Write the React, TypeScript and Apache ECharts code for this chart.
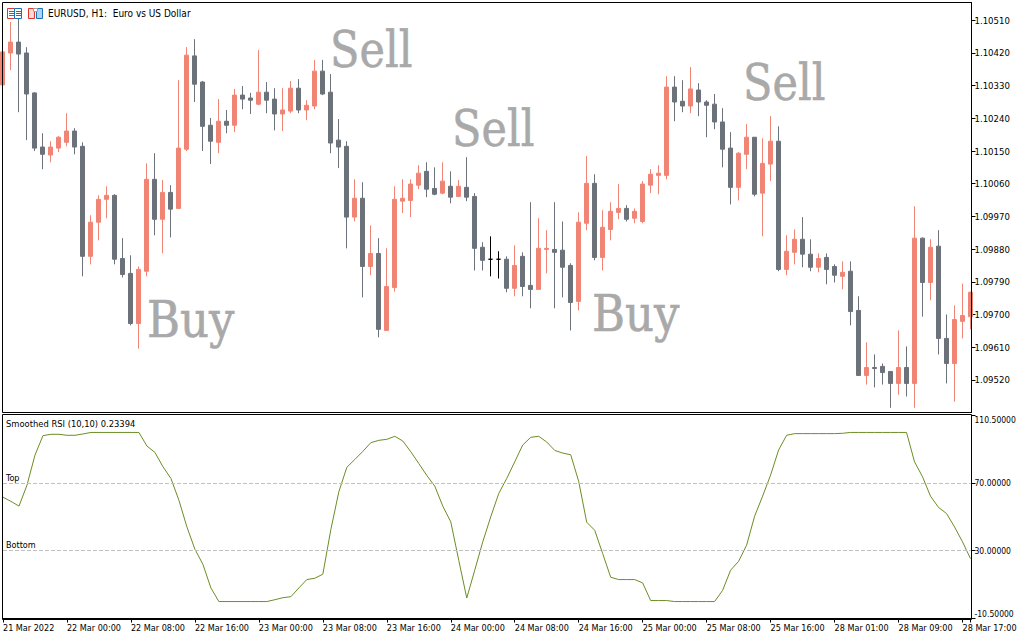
import React, { useEffect, useRef } from "react";
import * as echarts from "echarts";

const tickLabels = ["21 Mar 2022","22 Mar 00:00","22 Mar 08:00","22 Mar 16:00","23 Mar 00:00","23 Mar 08:00","23 Mar 16:00","24 Mar 00:00","24 Mar 08:00","24 Mar 16:00","25 Mar 00:00","25 Mar 08:00","25 Mar 16:00","28 Mar 01:00","28 Mar 09:00","28 Mar 17:00"];
const priceTicks = [1.0952,1.0961,1.097,1.0979,1.0988,1.0997,1.1006,1.1015,1.1024,1.1033,1.1042,1.1051];
const rsiTicks = [-10.5,30,70,110.5];
const levels = [{ name: "Top", value: 70 }, { name: "Bottom", value: 30 }];

const opens = [110332,110420,110450,110420,110310,110161,110139,110158,110174,110205,110163,109860,109954,110017,110028,109854,109813,109675,109819,110072,109962,110036,109992,110155,110412,110340,110221,110174,110232,110221,110304,110296,110279,110312,110293,110252,110260,110323,110263,110274,110370,110312,110180,110163,109968,110020,109832,109868,109656,109774,110012,110014,110056,110094,110047,110034,110053,110025,110050,110025,109885,109852,109852,109852,109772,109860,109780,109769,109879,109879,109877,109835,109736,109951,110061,109857,109934,109981,109992,109965,109956,110056,110083,110083,110326,110287,110274,110318,110285,110279,110230,110158,110050,110141,110188,110034,110114,110177,109824,109871,109907,109866,109830,109857,109832,109805,109819,109711,109532,109554,109557,109543,109510,109554,109510,109910,109788,109888,109634,109565,109681,109694];
const closes = [110423,110450,110417,110307,110158,110141,110161,110188,110205,110161,109860,109954,110017,110028,109852,109810,109675,109824,110072,109962,110036,109990,110158,110414,110334,110218,110177,110232,110221,110304,110293,110290,110312,110290,110252,110263,110323,110263,110276,110370,110307,110172,110161,109968,110020,109832,109868,109659,109777,110017,110020,110059,110089,110045,110031,110067,110023,110053,110023,109882,109849,109852,109852,109772,109835,109777,109769,109882,109882,109871,109830,109733,109954,110061,109857,109940,109984,109992,109962,109984,110059,110086,110089,110326,110285,110274,110321,110285,110276,110230,110155,110050,110144,110188,110031,110116,110177,109824,109874,109907,109866,109830,109854,109824,109808,109816,109708,109532,109554,109551,109540,109510,109554,109510,109910,109788,109885,109634,109565,109686,109697,109761];
const lows = [110332,110373,110257,110180,110150,110100,110119,110147,110163,110141,109805,109838,109904,109965,109838,109802,109670,109606,109805,109918,109868,109912,109990,110150,110285,110150,110114,110144,110199,110202,110265,110252,110276,110254,110207,110205,110254,110254,110235,110265,110304,110144,110103,109882,109956,109747,109808,109637,109656,109763,109979,109968,110045,110023,110028,110031,110006,110023,110012,109821,109821,109805,109799,109761,109750,109750,109717,109769,109813,109717,109747,109656,109711,109932,109849,109821,109904,109962,109956,109951,109951,110034,110031,110072,110232,110257,110254,110246,110188,110210,110105,110003,110014,110100,110025,109915,110067,109819,109808,109838,109830,109819,109816,109783,109788,109769,109670,109532,109507,109499,109507,109443,109479,109474,109443,109694,109739,109590,109510,109460,109634,109659];
const highs = [110423,110505,110525,110436,110312,110199,110177,110191,110254,110213,110174,109973,110028,110053,110031,109910,109863,109832,110116,110144,110070,110056,110345,110436,110458,110343,110241,110293,110263,110321,110329,110310,110428,110340,110323,110323,110343,110348,110290,110401,110401,110362,110238,110177,110072,110064,109945,109910,109882,110053,110072,110072,110111,110119,110105,110119,110094,110070,110133,110034,109899,109915,109874,109860,109890,109871,110009,109965,109932,110009,109956,109841,109981,110136,110086,109987,110009,110059,110001,109992,110067,110100,110111,110356,110356,110345,110381,110337,110290,110307,110268,110202,110147,110224,110188,110185,110246,110218,109918,109934,109968,109907,109868,109868,109838,109846,109846,109750,109623,109590,109565,109543,109656,109612,109998,109912,109907,109932,109700,109725,109785,109763];
const rsiValues = [61.8,59.3,56.5,69,86.9,98.5,99.3,99.3,98.7,98.7,99.5,100.4,100.4,100.4,100.4,100.4,100.4,100.4,92.3,88.5,80,73,60,44.1,30.8,21.8,7.7,-0.4,-0.4,-0.4,-0.4,-0.4,-0.4,-0.4,0.7,1.9,2.5,7.7,12.7,13.5,15.9,42.5,65,79.6,84.3,89.1,94.3,95.7,96.3,98.1,95.3,88.9,81.9,74.8,68.4,56.5,47.1,24.2,1.7,18.3,35.2,50.1,64,73,82.9,92.9,97.5,98.1,94.7,89.7,88.1,87.1,71.2,46.9,42.1,28.2,14.1,12.7,12.7,12.7,10.7,0.2,0.2,0.2,-0.4,-0.4,-0.4,-0.4,-0.4,-0.4,6.3,18.3,23.6,33.2,50.5,62.4,75,89.9,98.7,99.7,99.7,99.7,99.7,99.7,99.7,99.9,100.4,100.4,100.4,100.4,100.4,100.4,100.4,100.4,82.9,74,62.4,55.7,52.1,44.1,35.2,25.2];

const signals = [
  { text: "Sell", x: 330, y: 75 },
  { text: "Sell", x: 452, y: 154 },
  { text: "Sell", x: 743, y: 108 },
  { text: "Buy", x: 147, y: 345 },
  { text: "Buy", x: 592, y: 339 },
];

const categories = opens.map((_, i) => (i % 8 === 0 ? tickLabels[i / 8] : ""));
const candles = opens.map((o, i) => [o / 1e5, closes[i] / 1e5, lows[i] / 1e5, highs[i] / 1e5]);

const UI_FONT = "'DejaVu Sans Condensed', 'DejaVu Sans', sans-serif";
const SALMON = "#F08575";
const GRAY = "#6C7279";
const BLACK = "#000000";
const OLIVE = "#6B8E23";
const RED = "#E0352B";
const BLUE = "#1E6FB8";

const frame = (x: number, y: number, w: number, h: number) => ({
  type: "rect", silent: true, z: 50,
  shape: { x, y, width: w, height: h },
  style: { fill: "none", stroke: BLACK, lineWidth: 1 },
});
const box = (x: number, y: number, w: number, h: number, fill: string, stroke: string) => ({
  type: "rect", silent: true, z: 20,
  shape: { x, y, width: w, height: h },
  style: { fill, stroke, lineWidth: 1 },
});
const dash = (x1: number, x2: number, y: number, stroke: string) => ({
  type: "line", silent: true, z: 21,
  shape: { x1, y1: y, x2, y2: y },
  style: { stroke, lineWidth: 1 },
});

export default function App() {
  const ref = useRef<HTMLDivElement>(null);
  useEffect(() => {
    const chart = echarts.init(ref.current!, undefined, { renderer: "svg" });
    const xBase = { type: "category", data: categories, boundaryGap: false };
    chart.setOption({
      animation: false,
      backgroundColor: "#ffffff",
      grid: [
        { left: 2.5, top: 2.5, width: 968, height: 410, containLabel: false },
        { left: 2.5, top: 415.5, width: 968, height: 203, containLabel: false },
      ],
      xAxis: [
        { ...xBase, gridIndex: 0, show: false },
        {
          ...xBase, gridIndex: 1,
          axisLine: { show: true, onZero: false, lineStyle: { color: BLACK, width: 1 } },
          axisTick: { show: true, interval: 7, length: 4, lineStyle: { color: BLACK } },
          axisLabel: {
            interval: 7, color: BLACK, fontFamily: UI_FONT, fontSize: 9, align: "left", margin: 5,
            hideOverlap: false, showMinLabel: true, showMaxLabel: true,
            formatter: (v: string) => v,
          },
          splitLine: { show: false },
        },
      ],
      yAxis: [
        {
          type: "value", gridIndex: 0, position: "right", offset: 1, min: 1.0943, max: 1.10559, scale: true,
          axisLine: { show: true, lineStyle: { color: BLACK } },
          axisTick: { show: true, length: 4, customValues: priceTicks, lineStyle: { color: BLACK } },
          axisLabel: {
            customValues: priceTicks, color: BLACK, fontFamily: UI_FONT, fontSize: 9.5, margin: 3,
            formatter: (v: number) => v.toFixed(5),
          },
          splitLine: { show: false },
        },
        {
          type: "value", gridIndex: 1, position: "right", offset: 1, min: -10.5, max: 110.5,
          axisLine: { show: true, lineStyle: { color: BLACK } },
          axisTick: { show: true, length: 4, customValues: rsiTicks, lineStyle: { color: BLACK } },
          axisLabel: {
            customValues: rsiTicks, color: BLACK, fontFamily: UI_FONT, fontSize: 8.5, margin: 3,
            verticalAlignMaxLabel: "top", verticalAlignMinLabel: "bottom",
            formatter: (v: number) => v.toFixed(5),
          },
          splitLine: { show: false },
        },
      ],
      series: [
        {
          type: "candlestick", xAxisIndex: 0, yAxisIndex: 0, data: candles, barWidth: 5, clip: true,
          itemStyle: {
            color: SALMON, color0: GRAY, borderColor: SALMON, borderColor0: GRAY,
            borderColorDoji: BLACK, borderWidth: 1,
          },
        },
        {
          type: "line", xAxisIndex: 1, yAxisIndex: 1, data: rsiValues, symbol: "none",
          lineStyle: { color: OLIVE, width: 1 },
          markLine: {
            silent: true, symbol: "none", animation: false,
            lineStyle: { color: "#C0C0C0", type: "dashed", width: 1 },
            label: {
              show: true, position: "insideStartTop", distance: [3, 1],
              color: BLACK, fontFamily: UI_FONT, fontSize: 9,
              formatter: (p: any) => p.name,
            },
            data: levels.map((l) => ({ name: l.name, yAxis: l.value })),
          },
        },
      ],
      graphic: [
        frame(2.5, 2.5, 969, 410),
        frame(2.5, 414.5, 969, 205),
        ...signals.map((s) => ({
          type: "text", x: s.x, y: s.y, scaleX: s.text === "Buy" ? 0.9 : 0.86, silent: true, z: 10,
          style: {
            text: s.text, fill: "#A9A9A9", stroke: "#A9A9A9", lineWidth: 0.6, font: "50px 'DejaVu Serif'",
            textAlign: "left", textVerticalAlign: "bottom",
          },
        })),
        { type: "text", x: 48, y: 8, silent: true, z: 20,
          style: { text: "EURUSD, H1:  Euro vs US Dollar", fill: BLACK, font: `10px ${UI_FONT}` } },
        { type: "text", x: 6, y: 418.5, silent: true, z: 20,
          style: { text: "Smoothed RSI (10,10) 0.23394", fill: BLACK, font: `9.3px ${UI_FONT}` } },
        box(7.5, 8.5, 7, 10, "#fff", RED),
        box(14.5, 8.5, 7, 10, "#fff", BLUE),
        dash(9, 14, 11.5, RED), dash(9, 14, 13.5, RED), dash(9, 14, 15.5, RED),
        dash(16, 21, 11.5, BLUE), dash(16, 21, 13.5, BLUE), dash(16, 21, 15.5, BLUE),
        box(28.5, 8.5, 6, 10, "#FBD9D2", RED),
        box(36.5, 8.5, 6, 10, "#A9D6F2", BLUE),
        box(33.5, 8.5, 4, 3, "#fff", "#A0A0A0"),
      ],
    });
    return () => chart.dispose();
  }, []);
  return <div ref={ref} style={{ position: "fixed", left: 0, top: 0, width: 1024, height: 640 }} />;
}
